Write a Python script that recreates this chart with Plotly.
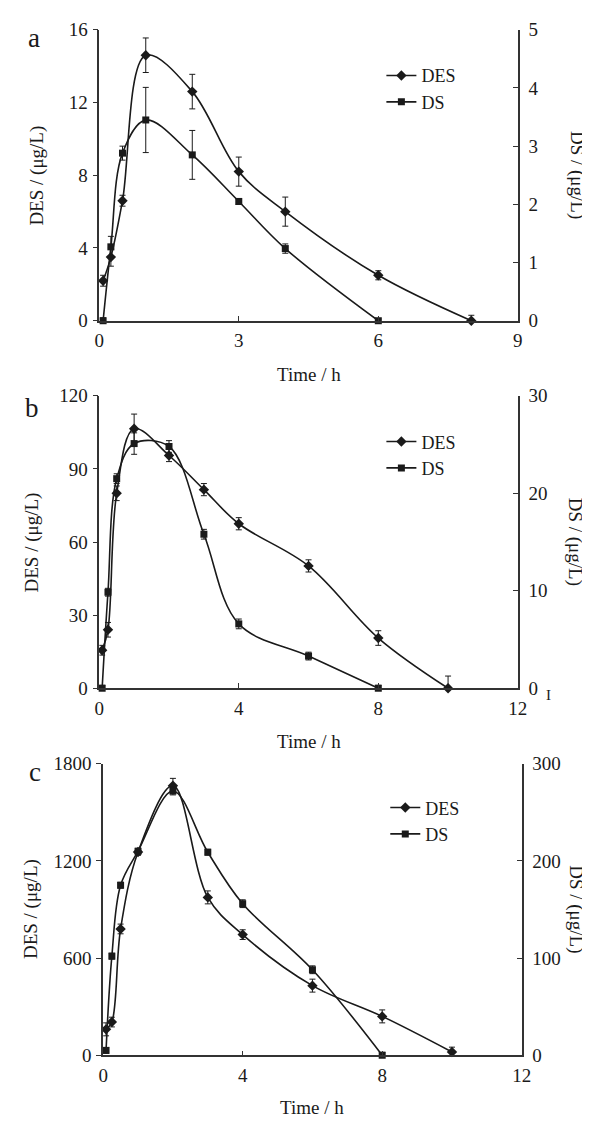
import plotly.graph_objects as go

# ---------------- data ----------------
# Panel a
t_a_des = [0.083, 0.25, 0.5, 1, 2, 3, 4, 6, 8]
des_a = [2.2, 3.5, 6.6, 14.6, 12.6, 8.2, 6.0, 2.5, 0.0]
des_a_err = [0.3, 0.5, 0.3, 0.95, 0.95, 0.8, 0.8, 0.25, 0.3]
t_a_ds = [0.083, 0.25, 0.5, 1, 2, 3, 4, 6]
ds_a = [0.0, 1.27, 2.88, 3.45, 2.85, 2.05, 1.24, 0.0]
ds_a_err = [0.05, 0.18, 0.12, 0.56, 0.42, 0.05, 0.08, 0.03]

# Panel b
t_b_des = [0.083, 0.25, 0.5, 1, 2, 3, 4, 6, 8, 10]
des_b = [15.6, 24, 80, 106.5, 95.5, 81.5, 67.5, 50.2, 20.6, 0.0]
des_b_err = [2, 3, 3, 6, 2.5, 2.5, 2.5, 2.5, 3, 5]
t_b_ds = [0.083, 0.25, 0.5, 1, 2, 3, 4, 6, 8]
ds_b = [0.0, 9.85, 21.5, 25.1, 24.8, 15.8, 6.6, 3.3, 0.0]
ds_b_err = [0.3, 0.4, 0.5, 1.1, 0.6, 0.5, 0.5, 0.4, 0.3]

# Panel c
t_c_des = [0.083, 0.25, 0.5, 1, 2, 3, 4, 6, 8, 10]
des_c = [160, 205, 780, 1255, 1665, 975, 745, 430, 240, 20]
des_c_err = [40, 30, 30, 20, 45, 40, 30, 40, 40, 30]
t_c_ds = [0.083, 0.25, 0.5, 1, 2, 3, 4, 6, 8]
ds_c = [5, 102, 175, 210, 272, 209, 156, 88, 0]
ds_c_err = [3, 3, 3, 3, 4, 3, 4, 4, 3]

x_ticks_a = [0, 3, 6, 9]
x_ticks_bc = [0, 4, 8, 12]
yl_ticks = [[0, 4, 8, 12, 16], [0, 30, 60, 90, 120], [0, 600, 1200, 1800]]
yr_ticks = [[0, 1, 2, 3, 4, 5], [0, 10, 20, 30], [0, 100, 200, 300]]

panel_letters = ["a", "b", "c"]
x_title = "Time / h"
yl_title = "DES / (μg/L)"
yr_title = "DS / (μg/L)"

# ---------------- style ----------------
W, H = 590, 1124
FONT = "Liberation Serif, Times New Roman, serif"
INK = "#1a1a1a"
AX = "#333333"
FS = 19

def py(pix):
    return 1 - pix / H

def px(pix):
    return pix / W

panels = [
    dict(xd=[px(88.5), px(518)], yd=[py(308.5), py(12)], xr=[0, 9], xt=x_ticks_a,
         ylr=[0, 16], yrr=[0, 5],
         des=(t_a_des, des_a, des_a_err), ds=(t_a_ds, ds_a, ds_a_err),
         letter_xy=(22, 20), leg_xy=(378, 40), title_y=363, ylx=25, yrx=578),
    dict(xd=[px(88.5), px(518)], yd=[py(683), py(385)], xr=[0, 12], xt=x_ticks_bc,
         ylr=[0, 120], yrr=[0, 30],
         des=(t_b_des, des_b, des_b_err), ds=(t_b_ds, ds_b, ds_b_err),
         letter_xy=(20, 397), leg_xy=(378, 413), title_y=737, ylx=20, yrx=577),
    dict(xd=[px(92.5), px(522)], yd=[py(1057), py(760)], xr=[0, 12], xt=x_ticks_bc,
         ylr=[0, 1800], yrr=[0, 300],
         des=(t_c_des, des_c, des_c_err), ds=(t_c_ds, ds_c, ds_c_err),
         letter_xy=(23, 768), leg_xy=(382, 786), title_y=1110, ylx=18, yrx=578),
]

fig = go.Figure()
layout = dict(
    width=W, height=H, margin=dict(l=0, r=0, t=0, b=0),
    paper_bgcolor="white", plot_bgcolor="white",
    font=dict(family=FONT, size=FS, color=INK),
    showlegend=True,
)
annotations = []

for i, p in enumerate(panels):
    xn = "x" if i == 0 else f"x{i+1}"
    yl_n = 2 * i + 1
    yr_n = 2 * i + 2
    yl = "y" if yl_n == 1 else f"y{yl_n}"
    yr = f"y{yr_n}"
    xkey = "xaxis" if i == 0 else f"xaxis{i+1}"
    ylkey = "yaxis" if yl_n == 1 else f"yaxis{yl_n}"
    yrkey = f"yaxis{yr_n}"
    legkey = "legend" if i == 0 else f"legend{i+1}"

    layout[xkey] = dict(
        domain=p["xd"], anchor=yl, range=p["xr"], tickvals=p["xt"],
        showline=True, linecolor=AX, linewidth=1.5, mirror=False,
        ticks="inside", ticklen=5, tickwidth=1, tickcolor=AX,
        showgrid=False, zeroline=False, ticklabelstandoff=2,
        tickfont=dict(family=FONT, size=FS, color=INK),
    )
    layout[ylkey] = dict(
        domain=p["yd"], anchor=xn, range=p["ylr"], tickvals=yl_ticks[i],
        showline=True, linecolor=AX, linewidth=1.5,
        ticks="outside", ticklen=5, tickwidth=1, tickcolor=AX,
        showgrid=False, zeroline=False, ticklabelstandoff=1,
        tickfont=dict(family=FONT, size=FS, color=INK),
    )
    layout[yrkey] = dict(
        domain=p["yd"], anchor=xn, overlaying=yl, side="right",
        range=p["yrr"], tickvals=yr_ticks[i],
        showline=True, linecolor=AX, linewidth=1.5,
        ticks="inside", ticklen=5, tickwidth=1, tickcolor=AX,
        showgrid=False, zeroline=False, ticklabelstandoff=5,
        tickfont=dict(family=FONT, size=FS, color=INK),
    )
    layout[legkey] = dict(
        x=px(p["leg_xy"][0]), y=py(p["leg_xy"][1]), xanchor="left", yanchor="top",
        bgcolor="rgba(0,0,0,0)", borderwidth=0, tracegroupgap=0,
        font=dict(family=FONT, size=18, color=INK), itemwidth=30,
    )

    t, v, e = p["des"]
    fig.add_trace(go.Scatter(
        x=t, y=v, xaxis=xn, yaxis=yl, name="DES", legend=legkey,
        mode="lines+markers", line=dict(color=INK, width=1.6, shape="spline", smoothing=1.0),
        marker=dict(symbol="diamond", size=8, color=INK),
        error_y=dict(type="data", array=e, visible=True, color=INK, thickness=1, width=3),
        cliponaxis=False,
    ))
    t, v, e = p["ds"]
    fig.add_trace(go.Scatter(
        x=t, y=v, xaxis=xn, yaxis=yr, name="DS", legend=legkey,
        mode="lines+markers", line=dict(color=INK, width=1.6, shape="spline", smoothing=1.0),
        marker=dict(symbol="square", size=7, color=INK),
        error_y=dict(type="data", array=e, visible=True, color=INK, thickness=1, width=3),
        cliponaxis=False,
    ))

    ymid = (p["yd"][0] + p["yd"][1]) / 2
    xmid = (p["xd"][0] + p["xd"][1]) / 2
    annotations += [
        dict(text=panel_letters[i], x=px(p["letter_xy"][0]), y=py(p["letter_xy"][1]),
             xref="paper", yref="paper", showarrow=False, xanchor="center", yanchor="middle",
             font=dict(family=FONT, size=27, color=INK)),
        dict(text=x_title, x=xmid, y=py(p["title_y"]), xref="paper", yref="paper",
             showarrow=False, xanchor="center", yanchor="middle",
             font=dict(family=FONT, size=FS, color=INK)),
        dict(text=yl_title, x=px(p["ylx"]), y=ymid, xref="paper", yref="paper",
             showarrow=False, xanchor="center", yanchor="middle", textangle=-90,
             font=dict(family=FONT, size=FS, color=INK)),
        dict(text=yr_title, x=px(p["yrx"]), y=ymid, xref="paper", yref="paper",
             showarrow=False, xanchor="center", yanchor="middle", textangle=90,
             font=dict(family=FONT, size=FS, color=INK)),
    ]

# stray glyph beside panel b's right axis
annotations.append(dict(text="I", x=px(549), y=py(690), xref="paper", yref="paper",
                        showarrow=False, xanchor="center", yanchor="middle",
                        font=dict(family=FONT, size=15, color=INK)))

layout["annotations"] = annotations
fig.update_layout(**layout)
fig.write_html("out.html")
